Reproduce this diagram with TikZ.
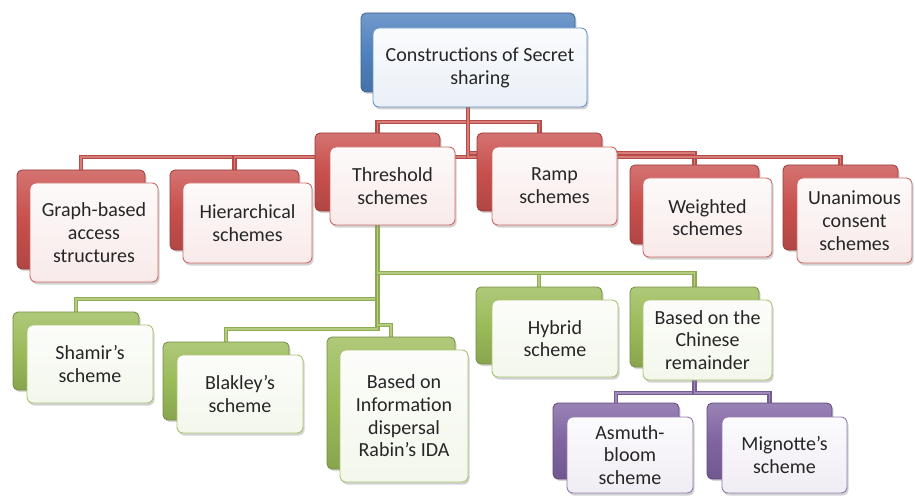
\documentclass[tikz,border=0pt]{standalone}
\usepackage{fontspec}
\setmainfont{Carlito}
\usetikzlibrary{shadows}
\definecolor{cblue}{HTML}{4F81BD}
\definecolor{cred}{HTML}{C8504D}
\definecolor{cgreen}{HTML}{9BBB59}
\definecolor{cpurple}{HTML}{8064A2}
\definecolor{ctext}{HTML}{262626}
\pgfdeclarelayer{bg}
\pgfsetlayers{bg,main}
\tikzset{
  backbox/.style={rounded corners=5pt, draw=#1!75!black, line width=0.8pt,
    top color=#1!80!white, bottom color=#1!88!black, middle color=#1,
    drop shadow={shadow xshift=1.5pt, shadow yshift=-2pt, opacity=0.3},
    inner sep=0pt},
  frontbox/.style={rounded corners=6pt, draw=#1!85!white, line width=0.9pt,
    top color=#1!3!white, bottom color=#1!12!white,
    drop shadow={shadow xshift=1.5pt, shadow yshift=-2.5pt, opacity=0.35},
    inner sep=0pt, align=center, text=ctext,
    font=\fontsize{20}{22.7}\selectfont},
  conn/.style={line width=1.3pt, draw=#1!92!black, double=#1!75!white,
    double distance=1.5pt},
}
\newcommand\smbox[9]{%
  \pgfmathsetmacro\bw{#5-#3}%
  \pgfmathsetmacro\bh{#6-#4}%
  \node[backbox=#2, minimum width=\bw pt, minimum height=\bh pt]
    (#1b) at ({(#3+#5)/2-#7},{(#4+#6)/2-#8}) {};
  \node[frontbox=#2, minimum width=\bw pt, minimum height=\bh pt]
    (#1) at ({(#3+#5)/2},{(#4+#6)/2}) {#9};
}
\begin{document}
\begin{tikzpicture}[x=1pt,y=-1pt]
\useasboundingbox (0,0) rectangle (915,497);
% level 0
\smbox{top}{cblue}{373}{28}{587}{107}{12}{15}{Constructions of Secret\\sharing}
% level 1
\smbox{gra}{cred}{30}{183}{158}{282}{13}{13}{Graph-based\\access\\structures}
\smbox{hie}{cred}{183}{183}{312}{263}{13}{13}{Hierarchical\\schemes}
\smbox{thr}{cred}{330}{147}{455}{225}{15}{14}{Threshold\\schemes}
\smbox{ram}{cred}{492}{147}{617}{225}{15}{14}{Ramp\\schemes}
\smbox{wei}{cred}{643}{178}{772}{257}{13}{13}{Weighted\\schemes}
\smbox{una}{cred}{797}{178}{912}{263}{14}{13}{Unanimous\\consent\\schemes}
% level 2
\smbox{sha}{cgreen}{27}{325}{153}{403}{14}{13}{Shamir’s\\scheme}
\smbox{bla}{cgreen}{177}{355}{303}{433}{14}{13}{Blakley’s\\scheme}
\smbox{rab}{cgreen}{340}{350}{468}{482}{13}{13}{Based on\\Information\\dispersal\\Rabin’s IDA}
\smbox{hyb}{cgreen}{492}{300}{618}{377}{16}{13}{Hybrid\\scheme}
\smbox{chi}{cgreen}{643}{300}{772}{380}{13}{13}{Based on the\\Chinese\\remainder}
% level 3
\smbox{asm}{cpurple}{567}{417}{693}{493}{14}{14}{Asmuth-\\bloom\\scheme}
\smbox{mig}{cpurple}{722}{417}{847}{493}{15}{14}{Mignotte’s\\scheme}
\begin{pgfonlayer}{bg}
\fill[white] (0,0) rectangle (915,497);
\draw[conn=cred] (topb.south) -- (topb.south |- 0,122) -| (thrb.north);
\draw[conn=cred] (topb.south) -- (topb.south |- 0,122) -| (ramb.north);
\draw[conn=cred] (topb.south) -- (topb.south |- 0,157) -| (grab.north);
\draw[conn=cred] (topb.south) -- (topb.south |- 0,157) -| (hieb.north);
\draw[conn=cred] (topb.south) -- (topb.south |- 0,153) -| (weib.north);
\draw[conn=cred] (topb.south) -- (topb.south |- 0,157) -| (unab.north);
\draw[conn=cgreen] (thrb.south) -- (thrb.south |- 0,299) -| (shab.north);
\draw[conn=cgreen] (thrb.south) -- (thrb.south |- 0,329) -| (blab.north);
\draw[conn=cgreen] (thrb.south) -- (thrb.south |- 0,325) -| (rabb.north);
\draw[conn=cgreen] (thrb.south) -- (thrb.south |- 0,273) -| (hybb.north);
\draw[conn=cgreen] (thrb.south) -- (thrb.south |- 0,273) -| (chib.north);
\draw[conn=cpurple] (chib.south) -- (chib.south |- 0,393) -| (asmb.north);
\draw[conn=cpurple] (chib.south) -- (chib.south |- 0,393) -| (migb.north);
\end{pgfonlayer}
\end{tikzpicture}
\end{document}
